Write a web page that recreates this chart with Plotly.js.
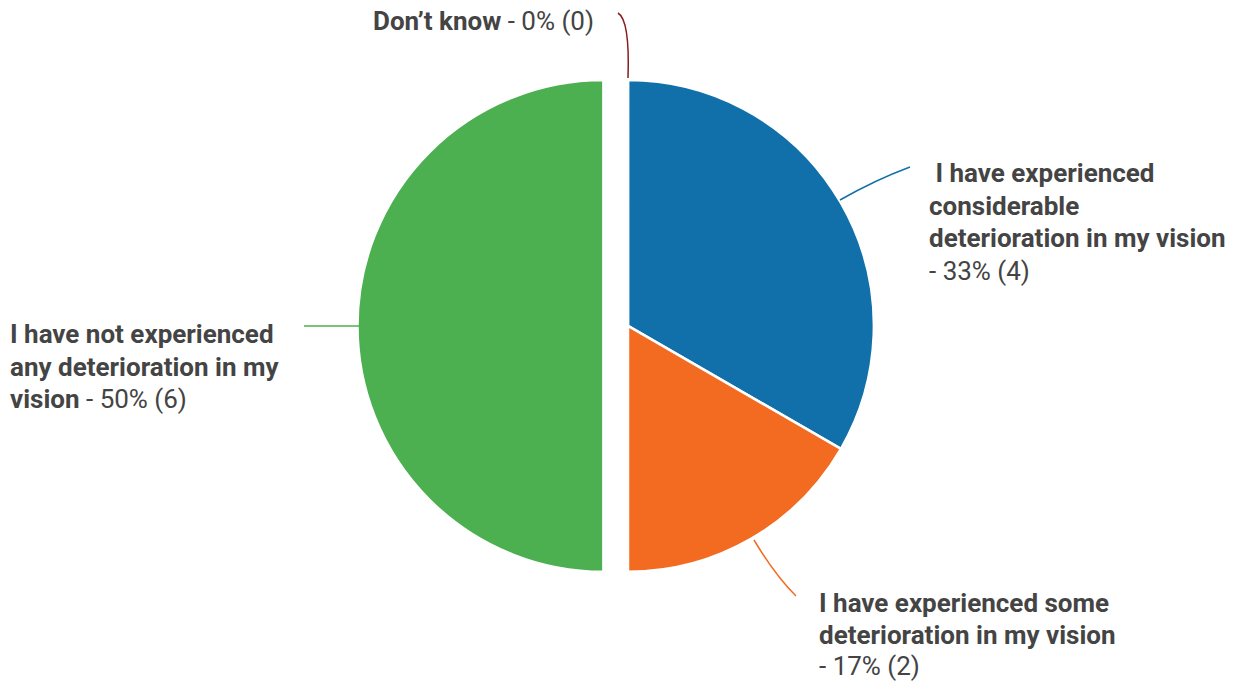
<!DOCTYPE html>
<html>
<head>
<meta charset="utf-8">
<script src="https://cdn.plot.ly/plotly-3.0.1.min.js"></script>
<style>html,body{margin:0;padding:0;background:#fff;}#chart{width:1234px;height:684px;}</style>
</head>
<body>
<div id="chart"></div>
<script>
// Data
var categories = [
  "I have experienced considerable deterioration in my vision",
  "I have experienced some deterioration in my vision",
  "I have not experienced any deterioration in my vision",
  "Don\u2019t know"
];
var counts = [4, 2, 6, 0];
var percents = ["33%", "17%", "50%", "0%"];
var sliceColors = ["#1170aa", "#f26b21", "#4caf50", "#8b1a1a"];
var pulls = [0, 0, 0.1, 0];

// Label lines (bold part, normal part) per category
var labelLines = [
  [[" I have experienced", ""], ["considerable", ""], ["deterioration in my vision", ""], ["", "- 33% (4)"]],
  [["I have experienced some", ""], ["deterioration in my vision", ""], ["", "- 17% (2)"]],
  [["I have not experienced", ""], ["any deterioration in my", ""], ["vision", " - 50% (6)"]],
  [["Don\u2019t know", " - 0% (0)"]]
];

var W = 1234, H = 684;
function px(x) { return x / W; }
function py(y) { return 1 - y / H; }

// label anchor (left x, first line center y) and line spacing in px
var labelPos = [[927, 173], [817, 603], [8, 334], [371, 21]];
var lineGap = [32.7, 31.5, 32.5, 0];

var annotations = [];
labelLines.forEach(function (lines, i) {
  lines.forEach(function (ln, j) {
    var t = (ln[0] ? "<b>" + ln[0] + "</b>" : "") + ln[1];
    annotations.push({
      xref: "paper", yref: "paper",
      x: px(labelPos[i][0]), y: py(labelPos[i][1] + j * lineGap[i]),
      xanchor: "left", yanchor: "middle",
      text: t, showarrow: false,
      font: {family: "Roboto, sans-serif", size: 26, color: "#444444"}
    });
  });
});

// leader lines (pixel paths converted to paper)
var leaders = [
  [[840, 200], [875, 180], [910, 167]],
  [[754, 540], [775, 575], [796, 596]],
  [[304, 326], [332, 326], [360, 326]],
  [[628, 78], [630, 20], [618, 13]]
];
var shapes = leaders.map(function (p, i) {
  return {
    type: "path", xref: "paper", yref: "paper",
    path: "M " + px(p[0][0]) + "," + py(p[0][1]) + " Q " + px(p[1][0]) + "," + py(p[1][1]) + " " + px(p[2][0]) + "," + py(p[2][1]),
    line: {color: sliceColors[i], width: 1.5}
  };
});

var trace = {
  type: "pie",
  labels: categories,
  values: counts,
  sort: false,
  direction: "clockwise",
  rotation: 0,
  pull: pulls,
  textinfo: "none",
  hoverinfo: "label+percent+value",
  marker: {colors: sliceColors, line: {color: "#ffffff", width: 2.5}},
  domain: {x: [0.2897, 0.7281], y: [0.128, 0.919]}
};

var layout = {
  width: W, height: H,
  margin: {l: 0, r: 0, t: 0, b: 0},
  showlegend: false,
  paper_bgcolor: "#ffffff",
  annotations: annotations,
  shapes: shapes
};

Plotly.newPlot("chart", [trace], layout, {displayModeBar: false, staticPlot: true});
</script>
</body>
</html>
